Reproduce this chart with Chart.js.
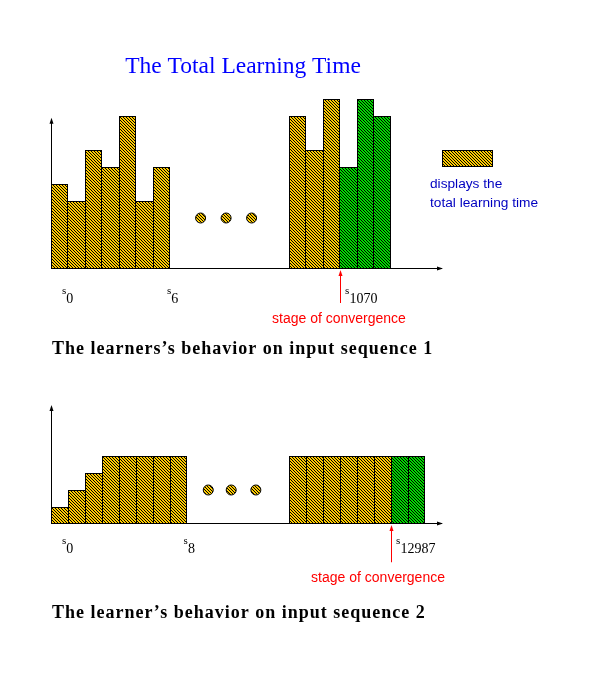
<!DOCTYPE html>
<html>
<head>
<meta charset="utf-8">
<title>The Total Learning Time</title>
<script src="https://cdn.jsdelivr.net/npm/chart.js@4"></script>
<style>
  html, body { margin: 0; padding: 0; background: #fff; }
  #wrap { position: relative; width: 612px; height: 688px; }
  #wrap canvas { position: absolute; left: 0; top: 0; }
</style>
</head>
<body>
<div id="wrap">
  <canvas id="seq1" width="612" height="688"></canvas>
  <canvas id="seq2" width="612" height="688"></canvas>
</div>
<script>
// total learning time of each stage (one slot per stage)
const seq1First = [5, 4, 7, 6, 9, 4, 6];      // s0 .. s6
const seq1Before = [9, 7, 10];                 // stages just before s1070
const seq1Converged = [6, 10, 9];              // s1070 and after
const seq2First = [1, 2, 3, 4, 4, 4, 4, 4];    // s0 .. s8
const seq2Before = [4, 4, 4, 4, 4, 4];         // stages just before s12987
const seq2Converged = [4, 4];                  // s12987 and after

const slotCount = 23;       // slots on the x axis
const laterSlot = [14, 14]; // slot where the later run starts, per sequence
const yMax = [10, 7];
const yAxisTop = [8.9, 7.0];

// the "..." between the two runs
const dots1X = [8.8, 10.3, 11.8];
const dots1Y = [3, 3, 3];
const dots2X = [9.25, 10.6, 12.05];
const dots2Y = [2, 2, 2];

// stage labels under the axis
const seq1Labels = ['0', '6', '1070'];
const seq1LabelSlots = [0.65, 6.82, 17.3];
const seq2Labels = ['0', '8', '12987'];
const seq2LabelSlots = [0.65, 7.8, 20.3];

// where convergence happens (slot boundary)
const convergeSlot = [17, 20];

const YELLOW = '#ffcc00';
const GREEN = '#00dd00';
const SERIF = '"Liberation Serif", "Times New Roman", serif';
const SANS = '"Liberation Sans", Arial, sans-serif';

// yellow/green fill with thin black "\" stripes
function hatch(ctx, color) {
  const c = document.createElement('canvas');
  c.width = c.height = 3;
  const g = c.getContext('2d');
  g.fillStyle = color;
  g.fillRect(0, 0, 3, 3);
  g.fillStyle = '#000';
  for (let i = 0; i < 3; i++) g.fillRect(i, i, 1, 1);
  return ctx.createPattern(c, 'repeat');
}

function run(values, start) {
  return values.map((v, i) => ({ x: start + i + 0.5, y: v }));
}

function arrowHead(ctx, x, y, dir) {
  // dir: 'up' or 'right'
  ctx.beginPath();
  if (dir === 'up') {
    ctx.moveTo(x, y); ctx.lineTo(x - 2, y + 6); ctx.lineTo(x + 2, y + 6);
  } else {
    ctx.moveTo(x, y); ctx.lineTo(x - 6, y - 2); ctx.lineTo(x - 6, y + 2);
  }
  ctx.closePath();
  ctx.fill();
}

// axes, arrows, labels and other text
const sketch = {
  id: 'sketch',
  afterDraw(chart, args, o) {
    const { ctx } = chart;
    const { x, y } = chart.scales;
    const x0 = x.getPixelForValue(0);
    const y0 = y.getPixelForValue(0);
    ctx.save();
    ctx.strokeStyle = '#000';
    ctx.fillStyle = '#000';
    ctx.lineWidth = 1;

    // axes
    const xEnd = x.getPixelForValue(slotCount);
    const yTop = y.getPixelForValue(o.axisTop);
    ctx.beginPath();
    ctx.moveTo(x0, y0 - 0.5); ctx.lineTo(xEnd, y0 - 0.5);
    ctx.moveTo(x0 + 0.5, y0); ctx.lineTo(x0 + 0.5, yTop + 2);
    ctx.stroke();
    arrowHead(ctx, x0 + 0.5, yTop, 'up');
    arrowHead(ctx, xEnd + 1, y0 - 0.5, 'right');

    // stage labels: small "s" with the index below it
    ctx.textAlign = 'left';
    ctx.textBaseline = 'alphabetic';
    o.labels.forEach((lab, i) => {
      const px = x.getPixelForValue(o.labelSlots[i]);
      ctx.font = '11px ' + SERIF;
      ctx.fillText('s', px, y0 + o.sDrop);
      const w = ctx.measureText('s').width;
      ctx.font = '14px ' + SERIF;
      ctx.fillText(lab, px + w, y0 + o.nDrop);
    });

    // stage of convergence
    const cx = Math.round(x.getPixelForValue(o.converge)) + 0.5;
    const cBottom = y.getPixelForValue(o.arrowLow);
    ctx.strokeStyle = '#ff0000';
    ctx.fillStyle = '#ff0000';
    ctx.beginPath();
    ctx.moveTo(cx, cBottom); ctx.lineTo(cx, y0 + 6);
    ctx.stroke();
    arrowHead(ctx, cx, y0 + 1, 'up');
    ctx.font = '14px ' + SANS;
    ctx.fillText('stage of convergence', x.getPixelForValue(o.noteSlot), y0 + o.noteDrop);

    // caption
    ctx.fillStyle = '#000';
    ctx.font = 'bold 18px ' + SERIF;
    ctx.letterSpacing = '1px';
    ctx.fillText(o.caption, 52, o.captionY);
    ctx.letterSpacing = '0px';

    if (o.legend) {
      ctx.font = '23.5px ' + SERIF;
      ctx.fillStyle = '#0000ff';
      ctx.textAlign = 'center';
      ctx.fillText('The Total Learning Time', 243, 73);

      const lx = x.getPixelForValue(slotCount);
      const lx2 = x.getPixelForValue(slotCount + 3);
      const ly = y.getPixelForValue(7);
      const ly2 = y.getPixelForValue(6);
      ctx.fillStyle = hatch(ctx, YELLOW);
      ctx.fillRect(lx, ly, lx2 - lx, ly2 - ly);
      ctx.strokeStyle = '#000';
      ctx.strokeRect(lx + 0.5, ly + 0.5, lx2 - lx - 1, ly2 - ly - 1);

      ctx.textAlign = 'left';
      ctx.fillStyle = '#0000c0';
      ctx.font = '13.7px ' + SANS;
      ctx.fillText('displays the', 430, 188);
      ctx.fillText('total learning time', 430, 207);
    }
    ctx.restore();
  }
};

function makeChart(id, k, first, before, converged, dotsX, dotsY, pad, extra) {
  const canvas = document.getElementById(id);
  const ctx = canvas.getContext('2d');
  const yellow = hatch(ctx, YELLOW);
  const green = hatch(ctx, GREEN);

  const heights = new Array(slotCount).fill(0);
  const all = [run(first, 0), run(before, laterSlot[k]), run(converged, laterSlot[k] + before.length)];
  all.forEach(d => d.forEach(p => { heights[Math.floor(p.x)] = p.y; }));

  const border = c => {
    const s = Math.floor(c.raw.x);
    const h = c.raw.y;
    return {
      top: 1,
      bottom: 1,
      left: (heights[s - 1] || 0) <= h ? 1 : 0,
      right: (heights[s + 1] || 0) < h ? 1 : 0
    };
  };
  const barSet = (data, fill) => ({
    type: 'bar', data, backgroundColor: fill, borderColor: '#000',
    borderWidth: border, borderSkipped: false, inflateAmount: 0,
    barPercentage: 1, categoryPercentage: 1, grouped: false
  });

  return new Chart(canvas, {
    type: 'bar',
    data: {
      datasets: [
        barSet(all[0], yellow),
        barSet(all[1], yellow),
        barSet(all[2], green),
        {
          type: 'scatter',
          data: dotsX.map((v, i) => ({ x: v, y: dotsY[i] })),
          backgroundColor: yellow, borderColor: '#000', borderWidth: 1,
          pointRadius: 5
        }
      ]
    },
    options: {
      responsive: false,
      animation: false,
      devicePixelRatio: 1,
      layout: { padding: pad },
      plugins: {
        legend: { display: false },
        tooltip: { enabled: false },
        sketch: Object.assign({ axisTop: yAxisTop[k], converge: convergeSlot[k] }, extra)
      },
      scales: {
        x: { type: 'linear', display: false, offset: false, min: 0, max: slotCount, ticks: { stepSize: 1 } },
        y: { type: 'linear', display: false, min: 0, max: yMax[k] }
      }
    },
    plugins: [sketch]
  });
}

makeChart('seq1', 0, seq1First, seq1Before, seq1Converged, dots1X, dots1Y,
  { left: 51, right: 170, top: 99, bottom: 419 },
  {
    labels: seq1Labels, labelSlots: seq1LabelSlots, sDrop: 25, nDrop: 34,
    arrowLow: -2, noteSlot: 13.0, noteDrop: 54,
    caption: 'The learners\u2019s behavior on input sequence 1', captionY: 354, legend: true
  });

makeChart('seq2', 1, seq2First, seq2Before, seq2Converged, dots2X, dots2Y,
  { left: 51, right: 170, top: 405, bottom: 164 },
  {
    labels: seq2Labels, labelSlots: seq2LabelSlots, sDrop: 20, nDrop: 29,
    arrowLow: -2.25, noteSlot: 15.3, noteDrop: 58,
    caption: 'The learner\u2019s behavior on input sequence 2', captionY: 618, legend: false
  });
</script>
</body>
</html>
